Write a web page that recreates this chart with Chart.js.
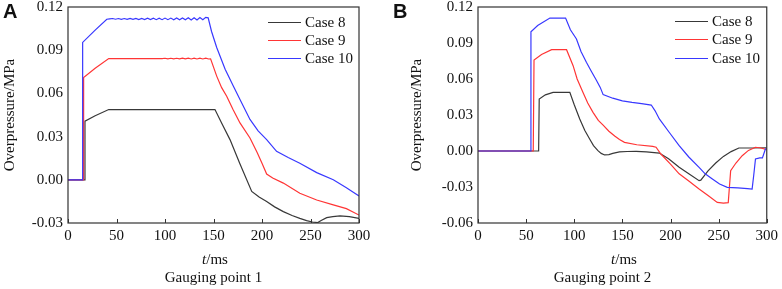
<!DOCTYPE html>
<html><head><meta charset="utf-8">
<script src="https://cdn.jsdelivr.net/npm/chart.js@4.4.0/dist/chart.umd.min.js"></script>
<style>
html,body{margin:0;padding:0;background:#fff;overflow:hidden;}
#wrap{position:relative;width:782px;height:289px;overflow:hidden;font-family:"Liberation Serif","Times New Roman",serif;color:#111;}
canvas{position:absolute;top:-20px;}
.t{position:absolute;transform:translate(-50%,-50%);font-size:15px;line-height:18px;white-space:nowrap;}
.pl{position:absolute;font-family:"Liberation Sans",Arial,sans-serif;font-weight:bold;font-size:20px;line-height:20px;}
.lg{position:absolute;height:18px;width:90px;font-size:15px;line-height:18px;white-space:nowrap;}
.lg .ln{position:absolute;left:0;top:9px;width:33px;height:1px;}
.lg .tx{position:absolute;left:37px;top:0;}
</style></head><body>
<div id="wrap">
<canvas id="ca" width="391" height="309" style="left:0"></canvas>
<canvas id="cb" width="391" height="309" style="left:391px"></canvas>
<div class="pl" style="left:3px;top:1px">A</div>
<div class="pl" style="left:393px;top:1px">B</div>
<div class="t" style="left:215px;top:258.5px"><i>t</i>/ms</div>
<div class="t" style="left:213.5px;top:277px">Gauging point 1</div>
<div class="t" style="left:624px;top:258.5px"><i>t</i>/ms</div>
<div class="t" style="left:602.5px;top:277px">Gauging point 2</div>
</div>
<script>
// ---- labels / ticks ----
const caseLabels = ['Case 8', 'Case 9', 'Case 10'];
const caseColors = ['#383838', '#ff3535', '#3838ff'];
const xTicks = [0, 50, 100, 150, 200, 250, 300];
const aYTicks = [-0.03, 0, 0.03, 0.06, 0.09, 0.12];
const bYTicks = [-0.06, -0.03, 0, 0.03, 0.06, 0.09, 0.12];

// ---- Gauging point 1 (panel A) ----
const aT8 = [0, 17.2, 17.5, 28, 42, 151.5, 159, 167, 177, 189.4, 197, 204.8, 213, 222, 231, 239, 246, 252, 257.5, 261, 266.7, 273, 280.4, 290, 300];
const aV8 = [0, 0, 0.0407, 0.0445, 0.0488, 0.0488, 0.0385, 0.0279, 0.0115, -0.0081, -0.0120, -0.0151, -0.0188, -0.0221, -0.0248, -0.0268, -0.0283, -0.0293, -0.0297, -0.0283, -0.0263, -0.0256, -0.0251, -0.0256, -0.0268];

const aT9 = [0, 15.8, 16.1, 28, 42, 60, 80, 97, 100, 103, 106, 109, 112, 115, 118, 121, 124, 127, 130, 133, 136, 139, 142, 145, 147, 153.3, 158.4, 163.6, 170, 177.3, 187.6, 195, 200, 204.8, 211, 222, 239, 256.4, 273.5, 287, 300];
const aV9 = [0, 0, 0.0710, 0.0775, 0.0842, 0.0842, 0.0842, 0.0842, 0.0844, 0.0840, 0.0844, 0.0840, 0.0844, 0.0840, 0.0845, 0.0840, 0.0845, 0.0839, 0.0845, 0.0839, 0.0845, 0.0839, 0.0845, 0.0839, 0.0840, 0.0720, 0.0640, 0.0580, 0.0490, 0.0395, 0.0290, 0.0190, 0.0115, 0.0040, 0.0012, -0.0023, -0.0093, -0.0140, -0.0174, -0.0200, -0.0245];

const aT10 = [0, 14.8, 15.1, 28, 40, 43, 46, 49, 52, 55, 58, 61, 64, 67, 70, 73, 76, 79, 82, 85, 88, 91, 94, 97, 100, 103, 106, 109, 112, 115, 118, 121, 124, 127, 130, 133, 136, 139, 142, 144.5, 148, 153.3, 162, 170.4, 177.3, 187.6, 196, 204.8, 215, 227, 239, 256.4, 273.5, 287, 300];
const aV10 = [0, 0, 0.0954, 0.1039, 0.1115, 0.1118, 0.1120, 0.1115, 0.1120, 0.1114, 0.1120, 0.1114, 0.1121, 0.1114, 0.1121, 0.1113, 0.1121, 0.1113, 0.1122, 0.1113, 0.1122, 0.1112, 0.1122, 0.1112, 0.1123, 0.1112, 0.1123, 0.1111, 0.1124, 0.1111, 0.1124, 0.1111, 0.1125, 0.1110, 0.1126, 0.1110, 0.1127, 0.1111, 0.1128, 0.1125, 0.1030, 0.0919, 0.0768, 0.0651, 0.0558, 0.0419, 0.0340, 0.0279, 0.0198, 0.0155, 0.0115, 0.0050, 0.0000, -0.0055, -0.0112];

// ---- Gauging point 2 (panel B) ----
const bT8 = [0, 63.0, 63.6, 70, 78, 95.4, 100, 105.7, 111, 116, 120, 124.6, 128, 131.5, 136, 140, 147, 155, 164.3, 175, 188.4, 198, 209, 219, 229.7, 231.5, 239, 247, 255, 263, 271, 285, 300];
const bV8 = [0, 0, 0.0433, 0.0468, 0.0489, 0.0489, 0.0385, 0.0267, 0.0170, 0.0100, 0.0045, 0.0003, -0.0020, -0.0033, -0.0030, -0.0020, -0.0008, -0.0004, -0.0003, -0.0008, -0.0017, -0.0065, -0.0136, -0.0190, -0.0247, -0.0243, -0.0165, -0.0100, -0.0045, -0.0005, 0.0025, 0.0025, 0.0027];

const bT9 = [0, 57.4, 58.2, 66, 76.5, 92, 98.8, 103, 109, 114, 119.5, 125, 130, 136, 142, 147, 152.2, 165, 181.5, 185, 190, 200, 209, 219, 229.7, 239, 248.6, 255, 260, 262.5, 268, 274.5, 281, 288.3, 294, 300];
const bV9 = [0, 0, 0.0758, 0.0805, 0.0844, 0.0844, 0.0711, 0.0600, 0.0489, 0.0400, 0.0322, 0.0255, 0.0215, 0.0165, 0.0125, 0.0095, 0.0072, 0.0052, 0.0039, 0.0032, -0.0025, -0.0110, -0.0190, -0.0250, -0.0317, -0.0370, -0.0428, -0.0435, -0.0430, -0.0164, -0.0100, -0.0039, 0.0005, 0.0031, 0.0025, 0.0012];

const bT10 = [0, 54.5, 55, 62, 74.7, 91, 96, 102.3, 107, 112.6, 118, 123, 127, 130, 140, 150, 160, 170, 180, 184, 188.4, 199, 209, 219, 229.7, 236, 243.5, 251, 259, 270, 280, 284.8, 286.5, 288.3, 292.8, 295.5, 298.6, 300];
const bV10 = [0, 0, 0.0994, 0.1045, 0.1108, 0.1108, 0.1010, 0.0933, 0.0830, 0.0739, 0.0660, 0.0590, 0.0530, 0.0470, 0.0440, 0.0418, 0.0405, 0.0395, 0.0383, 0.0335, 0.0267, 0.0152, 0.0044, -0.0050, -0.0136, -0.0190, -0.0233, -0.0275, -0.0303, -0.0308, -0.0313, -0.0317, -0.0200, -0.0067, -0.0058, -0.0058, 0.0017, 0.0020];

// ---- drawing ----
const FONT = 'Liberation Serif';
const frame = {
  id: 'frame',
  afterDraw(chart) {
    const {ctx, chartArea: a, scales: {x}} = chart;
    ctx.save();
    ctx.strokeStyle = '#333';
    ctx.lineWidth = 1.2;
    ctx.strokeRect(a.left, a.top, a.right - a.left, a.bottom - a.top);
    ctx.beginPath();
    x.ticks.forEach(t => {
      const px = Math.round(x.getPixelForValue(t.value)) + 0.5;
      ctx.moveTo(px, a.bottom);
      ctx.lineTo(px, a.bottom - 4);
    });
    ctx.lineWidth = 1;
    ctx.stroke();
    ctx.restore();
  }
};

function makeChart(id, series, yMin, yMax, yTicks, yWidth, padRight, titlePad) {
  const datasets = series.map((s, i) => ({
    label: caseLabels[i],
    data: s[0].map((t, k) => ({x: t, y: s[1][k]})),
    borderColor: caseColors[i],
    borderWidth: 1.2,
    pointRadius: 0,
    tension: 0,
    fill: false,
    order: 2 - i
  }));
  return new Chart(document.getElementById(id), {
    type: 'line',
    data: {datasets},
    options: {
      responsive: false,
      animation: false,
      devicePixelRatio: 1,
      layout: {padding: {left: 0, right: padRight, top: 27, bottom: 0}},
      plugins: {legend: {display: false}, tooltip: {enabled: false}},
      scales: {
        x: {
          type: 'linear', min: 0, max: 300,
          afterBuildTicks: s => { s.ticks = xTicks.map(v => ({value: v})); },
          afterFit: s => { s.height = 66; },
          grid: {display: false, drawTicks: false},
          border: {display: false},
          ticks: {padding: 4, color: '#111', maxRotation: 0, autoSkip: false,
                  font: {family: FONT, size: 15}, callback: v => String(v)}
        },
        y: {
          type: 'linear', min: yMin, max: yMax,
          afterBuildTicks: s => { s.ticks = yTicks.map(v => ({value: v})); },
          afterFit: s => { s.width = yWidth; },
          grid: {display: false, drawTicks: false},
          border: {display: false},
          ticks: {padding: 5, color: '#111', font: {family: FONT, size: 15},
                  callback: v => Number(v).toFixed(2)},
          title: {display: true, text: 'Overpressure/MPa', color: '#111',
                  font: {family: FONT, size: 15}, padding: {top: titlePad, bottom: 0}}
        }
      }
    },
    plugins: [frame]
  });
}

makeChart('ca', [[aT8, aV8], [aT9, aV9], [aT10, aV10]], -0.03, 0.12, aYTicks, 68, 32, 1);
makeChart('cb', [[bT8, bV8], [bT9, bV9], [bT10, bV10]], -0.06, 0.12, bYTicks, 87, 14, 17.5);

function legend(left, rows) {
  const wrap = document.getElementById('wrap');
  caseLabels.forEach((lab, i) => {
    const d = document.createElement('div');
    d.className = 'lg';
    d.style.left = left + 'px';
    d.style.top = Math.round(rows[i] - 9) + 'px';
    const ln = document.createElement('span');
    ln.className = 'ln';
    ln.style.background = caseColors[i];
    const tx = document.createElement('span');
    tx.className = 'tx';
    tx.textContent = lab;
    d.appendChild(ln); d.appendChild(tx);
    wrap.appendChild(d);
  });
}
legend(268, [22, 40, 58]);
legend(675, [21, 39, 58]);
</script>
</body></html>
